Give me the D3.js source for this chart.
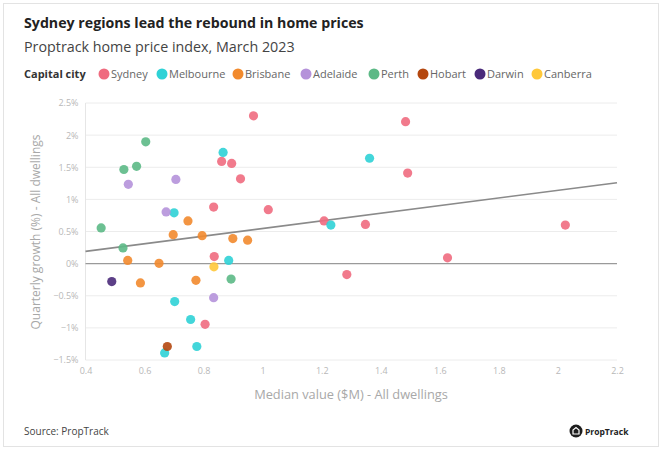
<!DOCTYPE html>
<html><head><meta charset="utf-8">
<script src="https://cdn.jsdelivr.net/npm/d3@7"></script>
<style>
html,body{margin:0;padding:0;background:#fff;}
svg{display:block;font-family:"Open Sans","Noto Sans",sans-serif;}
</style></head>
<body>
<svg id="chart" width="666" height="451"></svg>
<script>
// ---- data ----
const cities = ["Sydney","Melbourne","Brisbane","Adelaide","Perth","Hobart","Darwin","Canberra"];
const cityColors = ["#ef6b7f","#2fd2d6","#f28a2d","#b592da","#5cb986","#b4470f","#4a2a7a","#ffc83a"];
const sydneyX = [0.969,0.861,0.895,0.925,0.834,1.019,1.208,1.348,1.285,1.484,1.491,1.626,2.025,0.836,0.805];
const sydneyY = [2.30,1.59,1.56,1.32,0.88,0.84,0.665,0.61,-0.17,2.21,1.41,0.09,0.60,0.11,-0.945];
const melbourneX = [0.866,0.700,0.702,0.756,0.668,0.777,0.885,1.231,1.362];
const melbourneY = [1.73,0.79,-0.59,-0.87,-1.39,-1.29,0.05,0.60,1.64];
const brisbaneX = [0.747,0.697,0.795,0.899,0.949,0.543,0.649,0.586,0.774];
const brisbaneY = [0.665,0.45,0.435,0.39,0.365,0.05,0.005,-0.30,-0.26];
const adelaideX = [0.545,0.706,0.673,0.834];
const adelaideY = [1.235,1.31,0.805,-0.53];
const perthX = [0.604,0.530,0.573,0.453,0.527,0.893];
const perthY = [1.895,1.465,1.515,0.556,0.244,-0.24];
const hobartX = [0.677];
const hobartY = [-1.29];
const darwinX = [0.489];
const darwinY = [-0.28];
const canberraX = [0.835];
const canberraY = [-0.05];
const trendX = [0.4, 2.2];
const trendY = [0.19, 1.26];
const xTicks = [0.4,0.6,0.8,1,1.2,1.4,1.6,1.8,2,2.2];
const yTicks = [-1.5,-1,-0.5,0,0.5,1,1.5,2,2.5];

const seriesX = [sydneyX,melbourneX,brisbaneX,adelaideX,perthX,hobartX,darwinX,canberraX];
const seriesY = [sydneyY,melbourneY,brisbaneY,adelaideY,perthY,hobartY,darwinY,canberraY];

const svg = d3.select("#chart");
// frame
svg.append("rect").attr("x",3.5).attr("y",3.5).attr("width",655).attr("height",443)
  .attr("fill","#fff").attr("stroke","#e3e3e3").attr("stroke-width",1);

// titles
svg.append("text").attr("x",24).attr("y",28).text("Sydney regions lead the rebound in home prices")
  .attr("font-size",14.2).attr("font-weight",700).attr("fill","#222");
svg.append("text").attr("x",24).attr("y",52).text("Proptrack home price index, March 2023")
  .attr("font-size",14.3).attr("font-weight",400).attr("fill","#444");

// legend
const lg = svg.append("g");
lg.append("text").attr("x",24).attr("y",78).text("Capital city").attr("font-size",11)
  .attr("font-weight",700).attr("fill","#333");
const legendX = [104,162,238,306,374,423,480,537];
cities.forEach((c,i)=>{
  lg.append("circle").attr("cx",legendX[i]).attr("cy",74).attr("r",5.5).attr("fill",cityColors[i]);
  lg.append("text").attr("x",legendX[i]+7).attr("y",78).text(c).attr("font-size",11).attr("fill","#666");
});

// scales
const x = d3.scaleLinear().domain([0.4,2.2]).range([85.5,617]);
const y = d3.scaleLinear().domain([-1.5,2.5]).range([360,103]);

// gridlines
svg.append("g").selectAll("line").data(yTicks.filter(d=>d!==0)).join("line")
  .attr("x1",x(0.4)).attr("x2",x(2.2)).attr("y1",d=>y(d)).attr("y2",d=>y(d))
  .attr("stroke","#ececec").attr("stroke-width",1);
// left axis line
svg.append("line").attr("x1",x(0.4)).attr("x2",x(0.4)).attr("y1",y(2.5)).attr("y2",y(-1.5))
  .attr("stroke","#e6e6e6");

// axes (labels only)
const fmtY = d => (d===0?"0":d3.format("")(d)) + "%";
const yAxis = svg.append("g").attr("transform",`translate(${x(0.4)},0)`)
  .call(d3.axisLeft(y).tickValues(yTicks).tickFormat(fmtY).tickSize(0).tickPadding(7));
yAxis.select(".domain").remove();
yAxis.selectAll("text").attr("font-size",9).attr("fill","#b8b8b8").attr("font-family","Open Sans");
const xAxis = svg.append("g").attr("transform",`translate(0,${y(-1.5)})`)
  .call(d3.axisBottom(x).tickValues(xTicks).tickFormat(d3.format("")).tickSize(0).tickPadding(8));
xAxis.select(".domain").remove();
xAxis.selectAll("text").attr("font-size",9).attr("fill","#b8b8b8").attr("font-family","Open Sans");

// zero line
svg.append("line").attr("x1",x(0.4)).attr("x2",x(2.2)).attr("y1",y(0)).attr("y2",y(0))
  .attr("stroke","#9a9a9a").attr("stroke-width",1.2);

// trend line
svg.append("line").attr("x1",x(trendX[0])).attr("x2",x(trendX[1]))
  .attr("y1",y(trendY[0])).attr("y2",y(trendY[1]))
  .attr("stroke","#8a8a8a").attr("stroke-width",1.6);

// points
seriesX.forEach((xs,i)=>{
  const pts = xs.map((v,j)=>({x:v,y:seriesY[i][j]}));
  svg.append("g").selectAll("circle").data(pts).join("circle")
    .attr("cx",d=>x(d.x)).attr("cy",d=>y(d.y)).attr("r",4.6)
    .attr("fill",cityColors[i]).attr("fill-opacity",0.9);
});

// axis titles
svg.append("text").attr("x",351).attr("y",399).attr("text-anchor","middle")
  .text("Median value ($M) - All dwellings").attr("font-size",12.8).attr("fill","#a8a8a8");
svg.append("text").attr("transform","translate(40,232) rotate(-90)").attr("text-anchor","middle")
  .text("Quarterly growth (%) - All dwellings").attr("font-size",12).attr("fill","#a8a8a8");

// source
svg.append("text").attr("x",24).attr("y",435).text("Source: PropTrack").attr("font-size",10).attr("fill","#444");

// logo
const logo = svg.append("g").attr("transform","translate(576,431)");
logo.append("circle").attr("r",6.5).attr("fill","#1e1e1e");
logo.append("path").attr("d","M-3,3 L-3,-1 L0,-3.5 L3,-1 L3,3 Z").attr("fill","none").attr("stroke","#fff").attr("stroke-width",1.2);
logo.append("text").attr("x",9).attr("y",3.5).text("PropTrack").attr("font-size",8.5).attr("font-weight",700).attr("fill","#222");
</script>
</body></html>
